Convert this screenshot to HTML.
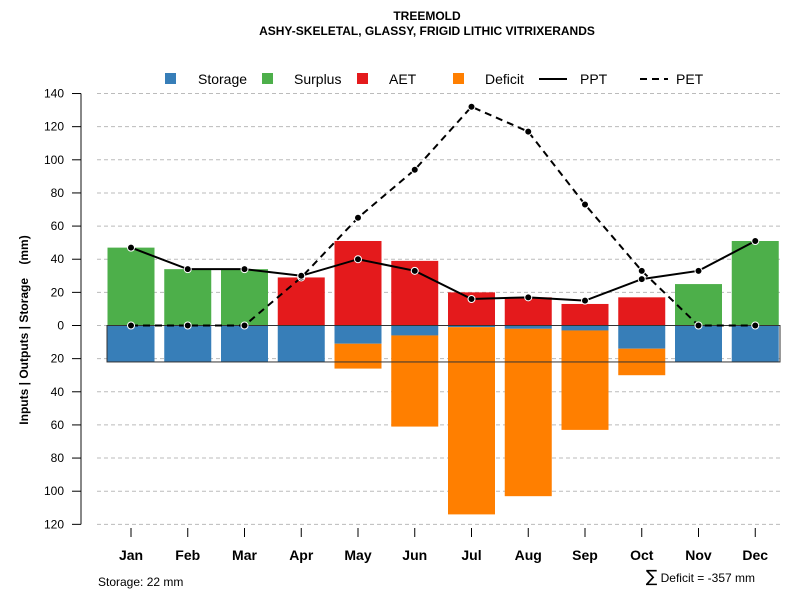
<!DOCTYPE html>
<html><head><meta charset="utf-8"><style>
body{margin:0;background:#fff}
svg{display:block;font-family:"Liberation Sans",sans-serif}
</style></head><body>
<svg id="chart" width="800" height="600" viewBox="0 0 800 600">
<text x="427" y="20" text-anchor="middle" font-size="12" font-weight="bold">TREEMOLD</text>
<text x="427" y="35" text-anchor="middle" font-size="12" font-weight="bold">ASHY-SKELETAL, GLASSY, FRIGID LITHIC VITRIXERANDS</text>
<text transform="translate(28,330) rotate(-90)" text-anchor="middle" font-size="12" font-weight="bold">Inputs | Outputs | Storage&#160;&#160;&#160;&#160;(mm)</text>
<g id="legend">
<rect x="165" y="73" width="11" height="11" fill="#377eb8"/>
<text x="198" y="84" font-size="14">Storage</text>
<rect x="262" y="73" width="11" height="11" fill="#4daf4a"/>
<text x="294" y="84" font-size="14">Surplus</text>
<rect x="357" y="73" width="11" height="11" fill="#e41a1c"/>
<text x="389" y="84" font-size="14">AET</text>
<rect x="453" y="73" width="11" height="11" fill="#ff7f00"/>
<text x="485" y="84" font-size="14">Deficit</text>
<line x1="539" y1="79" x2="567" y2="79" stroke="#000" stroke-width="2"/>
<text x="580" y="84" font-size="14">PPT</text>
<line x1="640" y1="79" x2="668" y2="79" stroke="#000" stroke-width="2" stroke-dasharray="7,5"/>
<text x="676" y="84" font-size="14">PET</text>
</g>
<g id="plot"></g>
<text x="98" y="586" font-size="12">Storage: 22 mm</text>
<text x="755" y="582" text-anchor="end" font-size="12"><tspan font-size="17" font-family="DejaVu Sans">∑</tspan> Deficit = -357 mm</text>
</svg>
<script>
const months=["Jan","Feb","Mar","Apr","May","Jun","Jul","Aug","Sep","Oct","Nov","Dec"];
const storage=[22,22,22,22,11,6,1,2,3,14,22,22];
const deficit=[0,0,0,0,15,55,113,101,60,16,0,0];
const surplus=[47,34,34,0,0,0,0,0,0,0,25,51];
const aet=[0,0,0,29,51,39,20,17,13,17,0,0];
const ppt=[47,34,34,30,40,33,16,17,15,28,33,51];
const pet=[0,0,0,29,65,94,132,117,73,33,0,0];
const yTicks=[140,120,100,80,60,40,20,0,-20,-40,-60,-80,-100,-120];
const storageCap=22;
const NS="http://www.w3.org/2000/svg";
const g=document.getElementById('plot');
function y(v){return 325.5-v*1.657;}
function x(i){return 131+i*56.75;}
const bw=47;
function el(t,a){const e=document.createElementNS(NS,t);for(const k in a)e.setAttribute(k,a[k]);g.appendChild(e);return e;}
el('line',{x1:81,y1:y(140),x2:81,y2:y(-120),stroke:'#888','stroke-width':2});
yTicks.forEach(t=>{
 const gl=el('line',{x1:97,x2:780,y1:y(t),y2:y(t),stroke:'#bbb','stroke-dasharray':'4,3'});
 
 
 el('line',{x1:72,x2:81,y1:y(t),y2:y(t),stroke:'#000'});
 const tx=el('text',{x:64,y:y(t)+4,'text-anchor':'end','font-size':12});
 tx.textContent=Math.abs(t);
 
 
});
months.forEach((m,i)=>{
 const cx=x(i),l=cx-bw/2;
 if(surplus[i]>0){const r=el('rect',{x:l,y:y(surplus[i]),width:bw,height:y(0)-y(surplus[i]),fill:'#4daf4a'});
  }
 if(aet[i]>0){const r=el('rect',{x:l,y:y(aet[i]),width:bw,height:y(0)-y(aet[i]),fill:'#e41a1c'});
  }
 const s=el('rect',{x:l,y:y(0),width:bw,height:y(-storage[i])-y(0),fill:'#377eb8'});
 
 
 if(deficit[i]>0){const d=el('rect',{x:l,y:y(-storage[i]),width:bw,height:y(-storage[i]-deficit[i])-y(-storage[i]),fill:'#ff7f00'});
  }
 el('line',{x1:cx,x2:cx,y1:528,y2:537,stroke:'#000'});
 const t=el('text',{x:cx,y:560,'text-anchor':'middle','font-size':14,'font-weight':'bold'});
 t.textContent=m;
 
 
});
const box=el('rect',{x:107,y:y(0),width:673,height:y(-storageCap)-y(0),fill:'none',stroke:'#333','stroke-width':1});


function line(arr,dash,name){
 const p=el('polyline',{points:arr.map((v,i)=>x(i)+','+y(v)).join(' '),fill:'none',stroke:'#000','stroke-width':2,'stroke-dasharray':dash});
 
 
 arr.forEach((v,i)=>{const c=el('circle',{cx:x(i),cy:y(v),r:3.5,fill:'#000',stroke:'#fff','stroke-width':1});
  });
}
line(pet,'7,5','pet-line');
line(ppt,'none','ppt-line');
</script>
</body></html>
